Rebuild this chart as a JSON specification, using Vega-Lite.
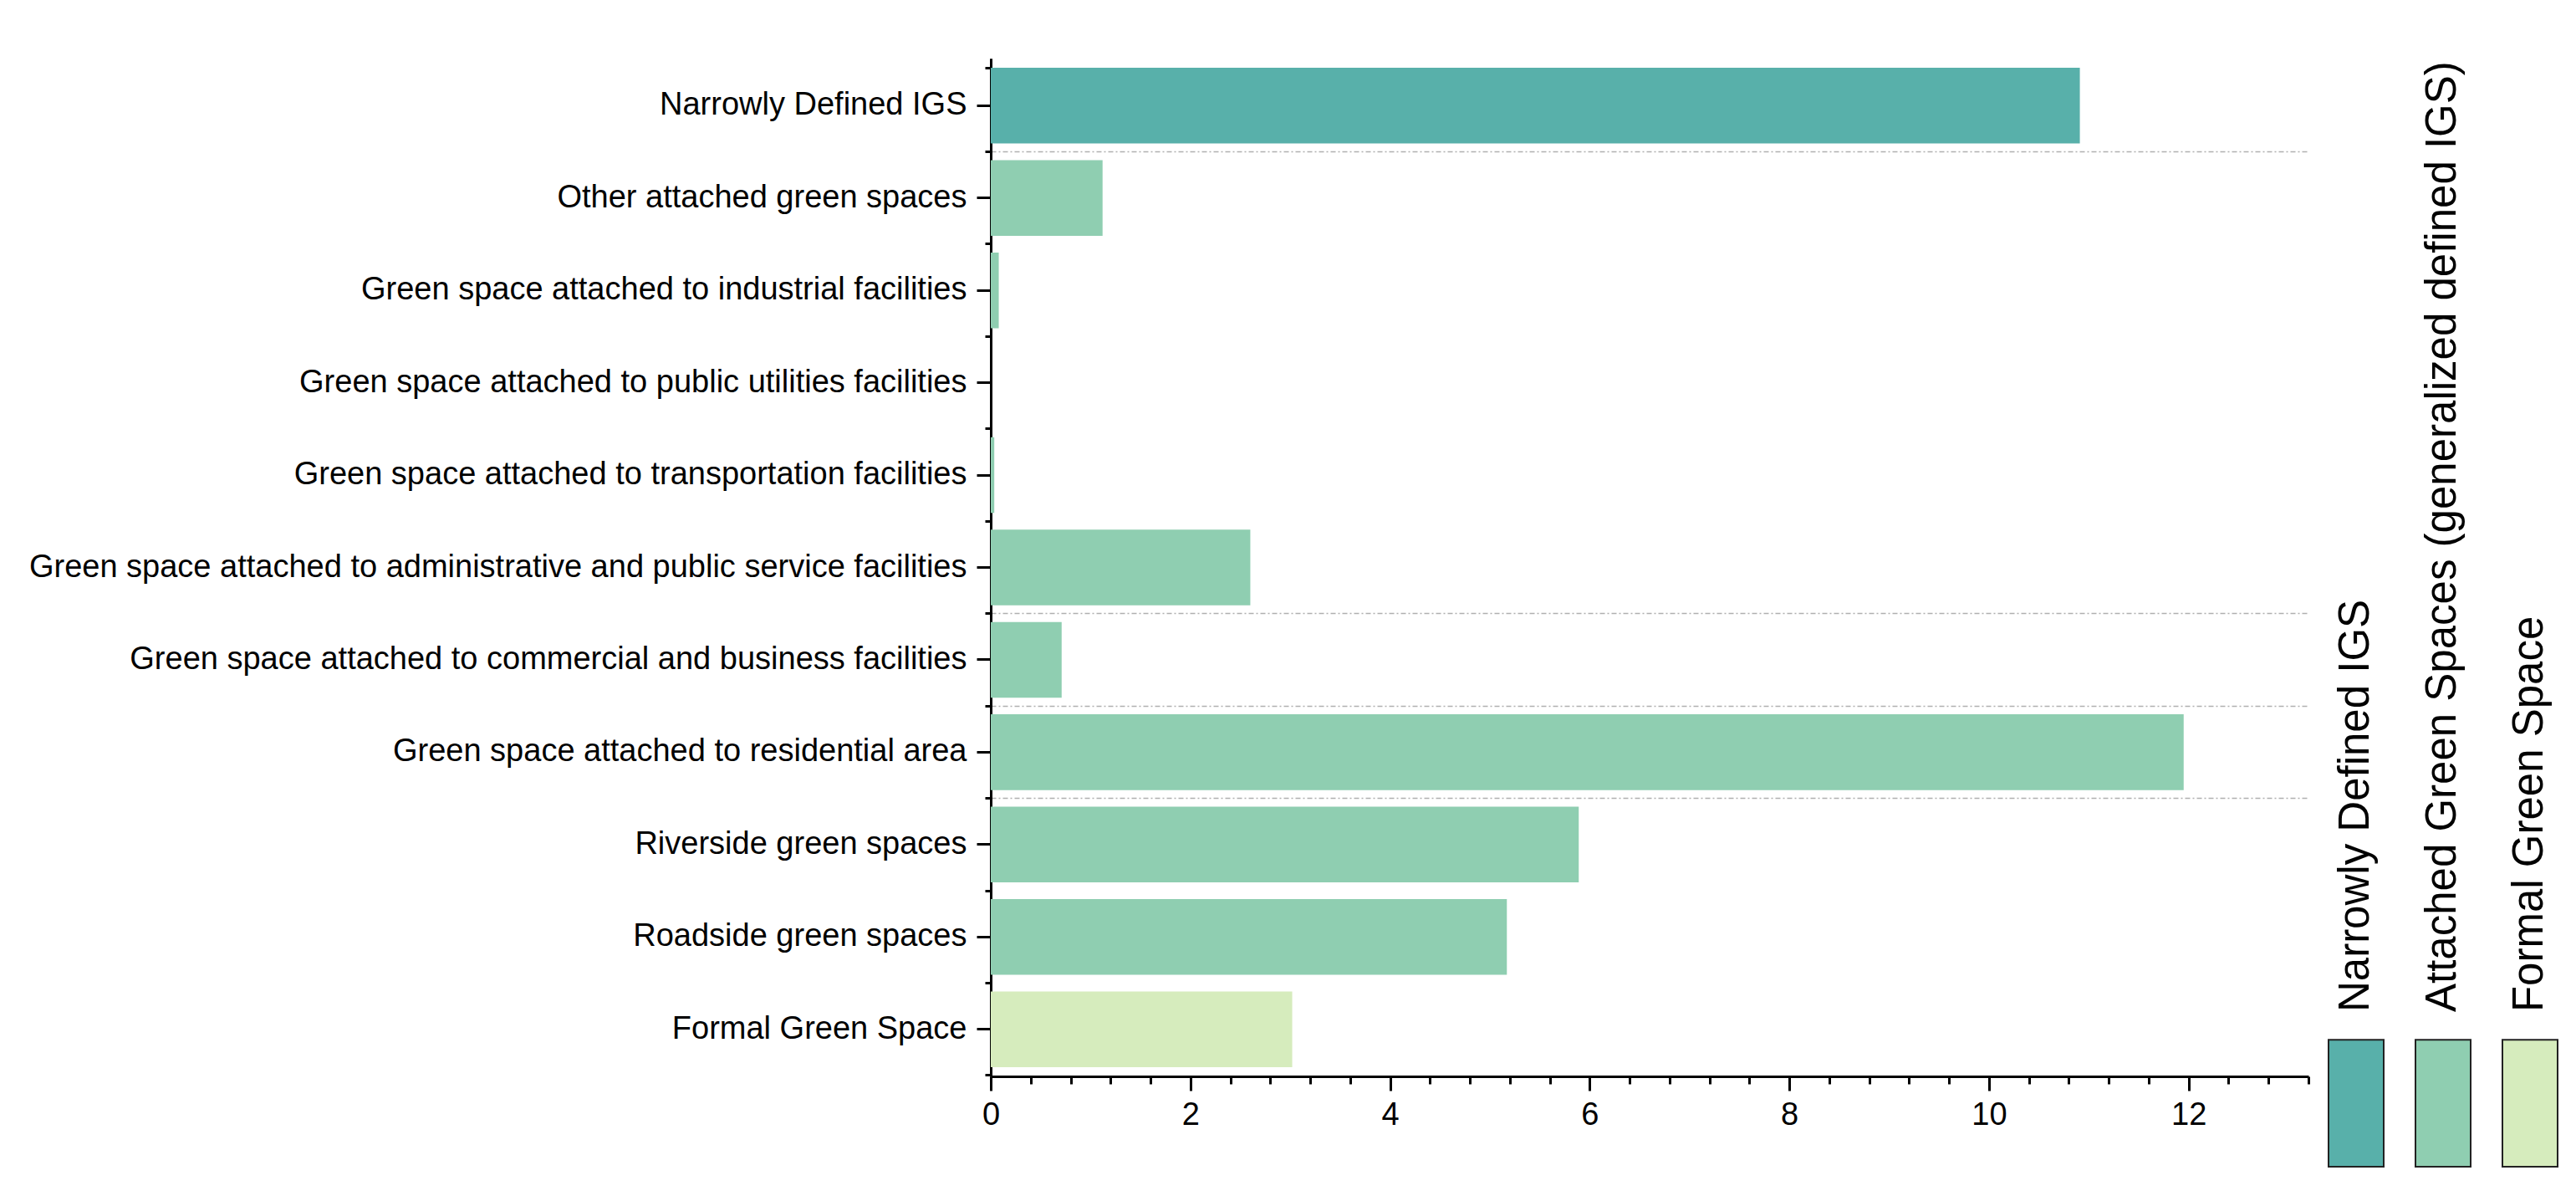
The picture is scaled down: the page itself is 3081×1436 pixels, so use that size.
{
  "$schema": "https://vega.github.io/schema/vega-lite/v6.json",
  "width": 1576,
  "height": 1217,
  "autosize": {"type": "none"},
  "padding": {"left": 1185, "top": 70, "right": 320, "bottom": 149},
  "background": "white",
  "data": {
    "values": [
      {"category": "Narrowly Defined IGS", "value": 10.91, "group": "Narrowly Defined IGS"},
      {"category": "Other attached green spaces", "value": 1.12, "group": "Attached Green Spaces (generalized defined IGS)"},
      {"category": "Green space attached to industrial facilities", "value": 0.08, "group": "Attached Green Spaces (generalized defined IGS)"},
      {"category": "Green space attached to public utilities facilities", "value": 0, "group": "Attached Green Spaces (generalized defined IGS)"},
      {"category": "Green space attached to transportation facilities", "value": 0.035, "group": "Attached Green Spaces (generalized defined IGS)"},
      {"category": "Green space attached to administrative and public service facilities", "value": 2.6, "group": "Attached Green Spaces (generalized defined IGS)"},
      {"category": "Green space attached to commercial and business facilities\u00a0", "value": 0.71, "group": "Attached Green Spaces (generalized defined IGS)"},
      {"category": "Green space attached to residential area\u00a0", "value": 11.95, "group": "Attached Green Spaces (generalized defined IGS)"},
      {"category": "Riverside green spaces", "value": 5.89, "group": "Attached Green Spaces (generalized defined IGS)"},
      {"category": "Roadside green spaces", "value": 5.17, "group": "Attached Green Spaces (generalized defined IGS)"},
      {"category": "Formal Green Space", "value": 3.02, "group": "Formal Green Space"}
    ]
  },
  "encoding": {
    "x": {
      "field": "value",
      "type": "quantitative",
      "scale": {"domain": [0, 13.2], "nice": false},
      "axis": {
        "title": null,
        "grid": false,
        "values": [0, 0.4, 0.8, 1.2, 1.6, 2, 2.4, 2.8, 3.2, 3.6, 4, 4.4, 4.8, 5.2, 5.6, 6, 6.4, 6.8, 7.2, 7.6, 8, 8.4, 8.8, 9.2, 9.6, 10, 10.4, 10.8, 11.2, 11.6, 12, 12.4, 12.8, 13.2],
        "labelExpr": "datum.value % 2 === 0 ? format(datum.value, 'd') : ''",
        "labelOverlap": false,
        "labelFlush": false,
        "labelFontSize": 38,
        "labelPadding": 10,
        "tickSize": {"condition": {"test": "datum.value % 2 === 0", "value": 17}, "value": 9},
        "tickWidth": 3,
        "domainWidth": 3
      }
    }
  },
  "layer": [
    {
      "mark": {"type": "bar"},
      "encoding": {
        "y": {
          "field": "category",
          "type": "nominal",
          "sort": null,
          "scale": {"paddingInner": 0.18, "paddingOuter": 0.1},
          "axis": {
            "title": null,
            "grid": false,
            "labelFontSize": 38,
            "labelLimit": 2000,
            "labelPadding": 12,
            "tickSize": 17,
            "tickWidth": 3,
            "domainWidth": 3
          }
        },
        "color": {
          "field": "group",
          "type": "nominal",
          "scale": {
            "domain": ["Narrowly Defined IGS", "Attached Green Spaces (generalized defined IGS)", "Formal Green Space"],
            "range": ["#58b0aa", "#8fceb1", "#d6ecbd"]
          },
          "legend": {
            "title": null,
            "orient": "none",
            "legendX": 1599,
            "legendY": 1215,
            "direction": "horizontal",
            "columns": 3,
            "columnPadding": 30,
            "padding": 0,
            "symbolType": "M-1,-2.3H1V2.3H-1Z",
            "symbolSize": 4356,
            "symbolStrokeColor": "#222",
            "symbolStrokeWidth": 2,
            "labelFontSize": 51,
            "labelLimit": 3000,
            "labelAlign": "left",
            "labelBaseline": "middle",
            "encode": {
              "labels": {
                "update": {
                  "angle": {"value": -90},
                  "dx": {"value": 109},
                  "dy": {"value": -38}
                }
              }
            }
          }
        }
      }
    },
    {
      "mark": {"type": "bar", "opacity": 0},
      "encoding": {
        "y": {
          "field": "category",
          "type": "nominal",
          "sort": null,
          "axis": {
            "orient": "left",
            "title": null,
            "labels": false,
            "bandPosition": 1.11,
            "tickExtra": true,
            "tickSize": 7,
            "tickWidth": 3,
            "domainWidth": 3,
            "grid": true,
            "gridColor": "#b0b0b0",
            "gridDash": [6, 3, 2, 3],
            "gridWidth": 1.5,
            "gridOpacity": {
              "condition": {
                "test": "indexof(['Narrowly Defined IGS', 'Green space attached to administrative and public service facilities', 'Green space attached to commercial and business facilities\u00a0', 'Green space attached to residential area\u00a0'], datum.value) >= 0",
                "value": 1
              },
              "value": 0
            }
          }
        }
      }
    }
  ],
  "resolve": {"axis": {"y": "independent"}},
  "config": {
    "font": "Liberation Sans",
    "view": {"stroke": null},
    "axis": {
      "labelFont": "Liberation Sans",
      "labelColor": "black",
      "tickColor": "black",
      "domainColor": "black"
    },
    "legend": {"labelFont": "Liberation Sans", "labelColor": "black"}
  }
}
